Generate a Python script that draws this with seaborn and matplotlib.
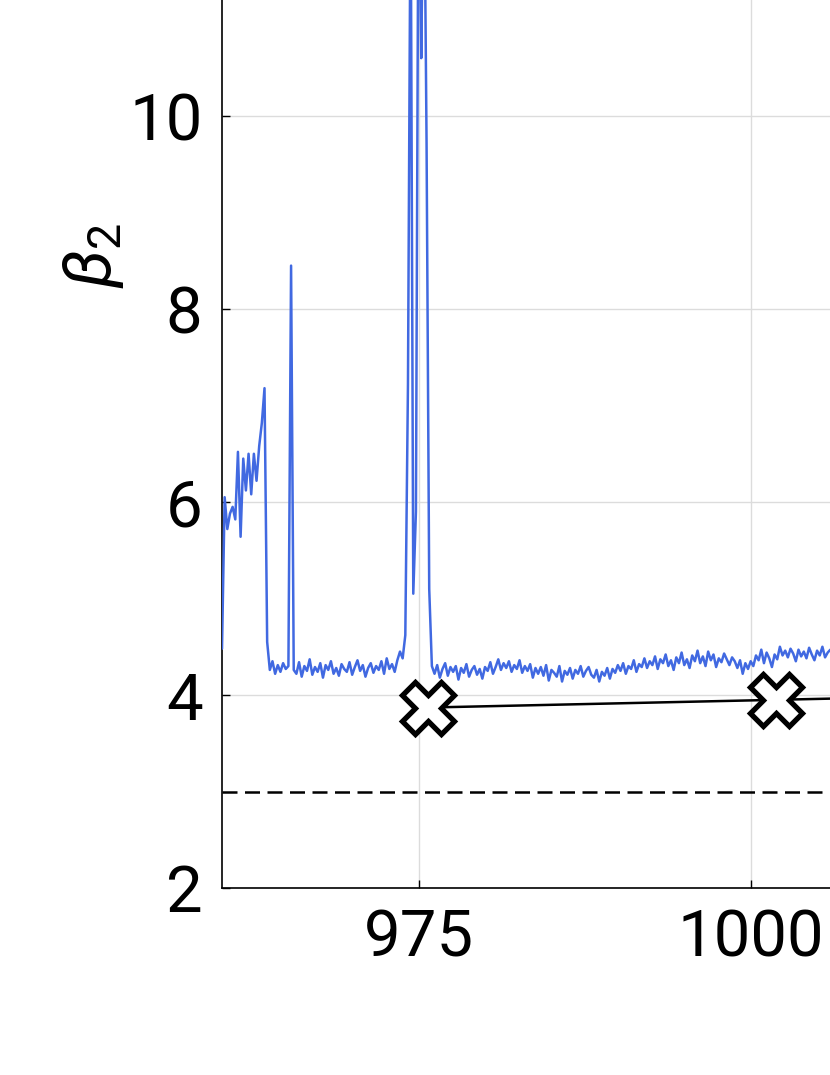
import numpy as np
import matplotlib
matplotlib.use("Agg")
import matplotlib.pyplot as plt
import seaborn as sns

# blue trace, sampled every 0.2 from 960.2
blue_start = 960.2
blue_step = 0.2
blue_y = [
    4.48, 6.05, 5.72, 5.88, 5.95, 5.82, 6.52, 5.64, 6.45, 6.12,
    6.50, 6.08, 6.50, 6.22, 6.58, 6.82, 7.18, 4.55, 4.26, 4.35,
    4.22, 4.31, 4.24, 4.33, 4.27, 4.30, 8.45, 4.26,
    4.22, 4.34, 4.19, 4.30, 4.25, 4.37, 4.21, 4.29, 4.24, 4.33,
    4.18, 4.31, 4.26, 4.35, 4.22, 4.28, 4.20, 4.32, 4.27, 4.24,
    4.34, 4.21, 4.29, 4.36, 4.25, 4.31, 4.19, 4.28, 4.33, 4.23,
    4.30, 4.26, 4.35, 4.22, 4.38, 4.27, 4.32, 4.24, 4.36,
    4.45, 4.38, 4.62, 7.22, 12.5, 5.05, 5.90, 13.0, 10.6, 13.0,
    9.72, 5.10, 4.30,
    4.22, 4.31, 4.18, 4.27, 4.33, 4.20, 4.29, 4.24, 4.30, 4.16,
    4.28, 4.23, 4.32, 4.19, 4.26, 4.30, 4.21, 4.27, 4.17, 4.29,
    4.25, 4.34, 4.22, 4.29, 4.37, 4.26, 4.33, 4.28, 4.35, 4.24,
    4.31, 4.27, 4.36, 4.23, 4.30, 4.25, 4.32, 4.18, 4.28, 4.22,
    4.29, 4.20, 4.31, 4.15, 4.26, 4.23, 4.19, 4.30, 4.14, 4.25,
    4.21, 4.28, 4.17, 4.26, 4.22, 4.30, 4.19, 4.25, 4.29, 4.21,
    4.18, 4.26, 4.14, 4.24, 4.20, 4.28, 4.17, 4.27, 4.23, 4.31,
    4.25, 4.33, 4.22, 4.30, 4.27, 4.36, 4.24, 4.32, 4.29, 4.38,
    4.28, 4.35, 4.31, 4.40, 4.27, 4.37, 4.33, 4.42, 4.30, 4.36,
    4.26, 4.39, 4.33, 4.44, 4.31, 4.37, 4.28, 4.41, 4.35, 4.46,
    4.33, 4.40, 4.30, 4.45, 4.36, 4.42, 4.29, 4.38, 4.34, 4.43,
    4.37, 4.31, 4.39, 4.35, 4.28, 4.36, 4.22, 4.33, 4.27, 4.35,
    4.30, 4.41, 4.36, 4.47, 4.33, 4.44, 4.38, 4.29, 4.42, 4.37,
    4.50, 4.41, 4.46, 4.39, 4.48, 4.43, 4.35, 4.47, 4.40, 4.45,
    4.38, 4.49, 4.42, 4.36, 4.46, 4.41, 4.50, 4.39, 4.44, 4.47,
]
blue_x = blue_start + blue_step * np.arange(len(blue_y))

# black series with X markers
mark_x = [975.7, 1001.9, 1028.0]
mark_y = [3.87, 3.95, 4.03]

ref_level = 3.0
xticks = [975, 1000, 1025]
yticks = [2, 4, 6, 8, 10, 12, 14]

sns.set_theme(style="ticks")
plt.rcParams["font.family"] = ["Roboto", "DejaVu Sans"]
plt.rcParams["mathtext.fontset"] = "custom"
plt.rcParams["mathtext.rm"] = "Roboto"
plt.rcParams["mathtext.it"] = "Roboto:italic"

fig = plt.figure(figsize=(8.3, 10.75), dpi=100)
# axes run off the right and top of the canvas (the reference is a crop)
ax = fig.add_axes([222 / 830, 187 / 1075, 1060 / 830, 1266 / 1075])

sns.lineplot(x=blue_x, y=blue_y, ax=ax, color="royalblue", lw=1.8,
             sort=False, estimator=None, zorder=3)
ax.axhline(ref_level, color="black", lw=1.8, ls=(0, (6, 3)), zorder=2)
sns.lineplot(x=mark_x, y=mark_y, ax=ax, color="black", lw=1.8,
             sort=False, estimator=None, zorder=4)
ax.plot(mark_x, mark_y, ls="none", marker="X", ms=37, mfc="white",
        mec="black", mew=3.8, zorder=5)

ax.set_xticks(xticks)
ax.set_yticks(yticks)
ax.set_xlim(960.2, 1040)
ax.set_ylim(2, 15.12)
ax.grid(True, color="#dcdcdc", lw=1)
ax.set_axisbelow(True)
for s in ["top", "right"]:
    ax.spines[s].set_visible(False)
for s in ["left", "bottom"]:
    ax.spines[s].set_color("black")
    ax.spines[s].set_linewidth(1.2)
ax.tick_params(direction="in", length=6, width=1, labelsize=47, pad=14,
               colors="black")
ax.set_ylabel(r"$\beta_2$", fontsize=48, labelpad=2, color="black")

fig.savefig("out.png", dpi=100)
